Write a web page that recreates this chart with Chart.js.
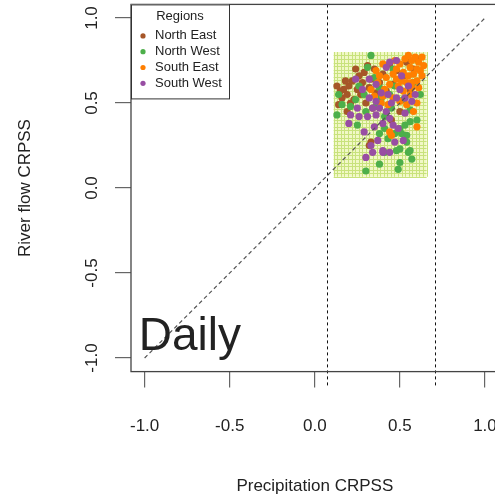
<!DOCTYPE html>
<html>
<head>
<meta charset="utf-8">
<script src="https://cdn.jsdelivr.net/npm/chart.js@4.4.0/dist/chart.umd.min.js"></script>
<style>
html, body { margin: 0; padding: 0; background: #fff; overflow: hidden; }
canvas { display: block; }
</style>
</head>
<body>
<canvas id="crpss" width="520" height="499"></canvas>
<script>
// CRPSS of river flow against CRPSS of precipitation, per catchment
const regions = ['North East', 'North West', 'South East', 'South West'];
const regionColours = ['#A65628', '#4DAF4A', '#FF7F00', '#984EA3'];
const tickValues = [-1, -0.5, 0, 0.5, 1];
const precipThresholds = [0.07, 0.705];
const skillBoxX = [0.111, 0.657];
const skillBoxY = [0.066, 0.8];

const northEast = [
  [0.14,0.49],[0.16,0.53],[0.17,0.58],[0.19,0.55],[0.20,0.60],[0.22,0.63],[0.23,0.52],[0.24,0.70],
  [0.25,0.58],[0.26,0.66],[0.27,0.55],[0.28,0.62],[0.29,0.68],[0.30,0.50],[0.31,0.72],[0.32,0.59],
  [0.33,0.64],[0.34,0.47],[0.35,0.70],[0.36,0.56],[0.38,0.62],[0.40,0.67],[0.42,0.57],[0.44,0.73],
  [0.46,0.61],[0.48,0.69],[0.50,0.45],[0.52,0.66],[0.54,0.74],[0.56,0.58],[0.58,0.70],[0.60,0.76],
  [0.19,0.45],[0.21,0.50],[0.15,0.57],[0.33,0.27],[0.32,0.25],[0.45,0.40],[0.13,0.60],[0.18,0.63]
];
const northWest = [
  [0.33,0.78],[0.13,0.43],[0.21,0.48],[0.29,0.55],[0.38,0.59],[0.39,0.53],[0.25,0.37],[0.38,0.32],
  [0.53,0.37],[0.50,0.35],[0.47,0.32],[0.51,0.32],[0.54,0.31],[0.54,0.27],[0.56,0.39],[0.41,0.21],
  [0.50,0.23],[0.55,0.21],[0.56,0.22],[0.30,0.10],[0.49,0.11],[0.38,0.14],[0.48,0.22],[0.56,0.46],
  [0.30,0.45],[0.45,0.47],[0.58,0.62],[0.44,0.55],[0.35,0.65],[0.16,0.49],[0.26,0.60],[0.41,0.42],
  [0.47,0.60],[0.52,0.52],[0.60,0.40],[0.57,0.17],[0.43,0.29],[0.36,0.48],[0.31,0.71],[0.24,0.52],
  [0.46,0.70],[0.50,0.15],[0.41,0.35],[0.14,0.55],[0.62,0.55]
];
const southEast = [
  [0.53,0.76],[0.55,0.78],[0.57,0.75],[0.59,0.77],[0.61,0.74],[0.63,0.77],[0.50,0.73],[0.56,0.71],
  [0.60,0.70],[0.36,0.69],[0.40,0.73],[0.38,0.66],[0.42,0.65],[0.46,0.67],[0.48,0.64],[0.52,0.68],
  [0.55,0.66],[0.58,0.67],[0.62,0.69],[0.44,0.61],[0.49,0.60],[0.54,0.62],[0.57,0.59],[0.60,0.63],
  [0.41,0.58],[0.52,0.57],[0.56,0.55],[0.60,0.50],[0.63,0.66],[0.46,0.53],[0.50,0.51],[0.40,0.54],
  [0.43,0.49],[0.58,0.45],[0.60,0.36],[0.45,0.31],[0.44,0.33],[0.37,0.62],[0.33,0.58],[0.64,0.72],
  [0.47,0.75],[0.51,0.63],[0.39,0.50],[0.54,0.49],[0.61,0.59],[0.35,0.54],[0.57,0.62],[0.48,0.70]
];
const southWest = [
  [0.48,0.75],[0.44,0.74],[0.42,0.71],[0.32,0.64],[0.36,0.61],[0.32,0.53],[0.36,0.51],[0.34,0.47],
  [0.45,0.50],[0.48,0.53],[0.53,0.53],[0.21,0.43],[0.26,0.42],[0.31,0.42],[0.36,0.43],[0.40,0.38],
  [0.44,0.41],[0.46,0.37],[0.49,0.35],[0.52,0.28],[0.33,0.25],[0.34,0.21],[0.40,0.21],[0.44,0.21],
  [0.37,0.28],[0.30,0.18],[0.40,0.22],[0.51,0.66],[0.55,0.60],[0.28,0.58],[0.39,0.56],[0.43,0.55],
  [0.59,0.55],[0.25,0.47],[0.29,0.33],[0.53,0.44],[0.47,0.27],[0.38,0.47],[0.50,0.58],[0.24,0.64],
  [0.57,0.51],[0.20,0.38],[0.42,0.45],[0.35,0.36]
];
const regionPoints = [northEast, northWest, southEast, southWest];

Chart.defaults.font.family = '"Liberation Sans", Arial, sans-serif';
Chart.defaults.color = '#222';

const toXY = pts => pts.map(p => ({ x: p[0], y: p[1] }));

const overlay = {
  id: 'overlay',
  beforeDatasetsDraw(chart) {
    // hatched skill window behind the points
    const { ctx, scales: { x, y } } = chart;
    const l = x.getPixelForValue(skillBoxX[0]), r = x.getPixelForValue(skillBoxX[1]);
    const t = y.getPixelForValue(skillBoxY[1]), b = y.getPixelForValue(skillBoxY[0]);
    ctx.save();
    ctx.fillStyle = '#f1f8c6';
    ctx.fillRect(l, t, r - l, b - t);
    ctx.strokeStyle = '#c8e27c';
    ctx.lineWidth = 1;
    ctx.beginPath();
    for (let v = skillBoxX[0]; v <= skillBoxX[1] + 1e-9; v += 0.021) {
      const px = Math.round(x.getPixelForValue(v)) + 0.5;
      ctx.moveTo(px, t); ctx.lineTo(px, b);
    }
    for (let v = skillBoxY[0]; v <= skillBoxY[1] + 1e-9; v += 0.021) {
      const py = Math.round(y.getPixelForValue(v)) + 0.5;
      ctx.moveTo(l, py); ctx.lineTo(r, py);
    }
    ctx.stroke();
    ctx.restore();
  },
  afterDatasetsDraw(chart) {
    const { ctx, chartArea, scales: { x, y } } = chart;
    ctx.save();
    // 1:1 line
    ctx.strokeStyle = '#555';
    ctx.lineWidth = 1.2;
    ctx.setLineDash([4, 3]);
    ctx.beginPath();
    ctx.moveTo(x.getPixelForValue(-1), y.getPixelForValue(-1));
    ctx.lineTo(x.getPixelForValue(1), y.getPixelForValue(1));
    ctx.stroke();
    // precipitation skill thresholds
    ctx.strokeStyle = '#111';
    ctx.lineWidth = 1;
    ctx.setLineDash([3, 3]);
    precipThresholds.forEach(v => {
      const px = Math.round(x.getPixelForValue(v)) + 0.5;
      ctx.beginPath();
      ctx.moveTo(px, chartArea.top);
      ctx.lineTo(px, chartArea.bottom + 14);
      ctx.stroke();
    });
    ctx.restore();
  },
  afterDraw(chart) {
    const { ctx, chartArea, scales: { x, y } } = chart;
    ctx.save();
    // plot frame
    ctx.strokeStyle = '#444';
    ctx.lineWidth = 1.3;
    ctx.strokeRect(chartArea.left, chartArea.top, chartArea.right - chartArea.left, chartArea.bottom - chartArea.top);

    // legend box
    const lx = chartArea.left, ly = chartArea.top;
    ctx.fillStyle = '#fff';
    ctx.fillRect(lx, ly, 98, 94);
    ctx.strokeStyle = '#333';
    ctx.lineWidth = 1;
    ctx.strokeRect(lx + 0.5, ly + 0.5, 98, 94);
    ctx.fillStyle = '#222';
    ctx.font = '13px "Liberation Sans", Arial, sans-serif';
    ctx.textBaseline = 'middle';
    ctx.textAlign = 'center';
    ctx.fillText('Regions', lx + 49, ly + 12.5);
    ctx.textAlign = 'left';
    chart.data.datasets.forEach((ds, i) => {
      const cy = ly + 31.5 + i * 15.8;
      ctx.fillStyle = ds.backgroundColor;
      ctx.beginPath();
      ctx.arc(lx + 12, cy, 2.6, 0, Math.PI * 2);
      ctx.fill();
      ctx.fillStyle = '#222';
      ctx.fillText(ds.label, lx + 24, cy);
    });

    // panel label
    ctx.font = '46px "Liberation Sans", Arial, sans-serif';
    ctx.textBaseline = 'alphabetic';
    ctx.fillStyle = '#222';
    ctx.fillText('Daily', x.getPixelForValue(-1.035), y.getPixelForValue(-0.953));
    ctx.restore();
  }
};

new Chart(document.getElementById('crpss'), {
  type: 'scatter',
  data: {
    datasets: regions.map((name, i) => ({
      label: name,
      data: toXY(regionPoints[i]),
      backgroundColor: regionColours[i],
      borderWidth: 0,
      pointRadius: 3.6,
      order: 4 - i
    }))
  },
  options: {
    responsive: false,
    animation: false,
    events: [],
    layout: { padding: { left: 0, top: 4.4, right: 21.4, bottom: 0 } },
    plugins: { legend: { display: false }, tooltip: { enabled: false } },
    scales: {
      x: {
        type: 'linear',
        min: -1.08,
        max: 1.08,
        afterBuildTicks: s => { s.ticks = tickValues.map(v => ({ value: v })); },
        afterFit: s => { s.height = 127.4; s.paddingLeft = 0; s.paddingRight = 0; },
        border: { display: false },
        grid: { drawOnChartArea: false, drawTicks: true, tickLength: 16, color: '#666', lineWidth: 1.2 },
        ticks: { padding: 29, font: { size: 17 }, color: '#222', callback: v => v.toFixed(1) },
        title: { display: true, text: 'Precipitation CRPSS', font: { size: 17 }, color: '#222', padding: { bottom: 2 } }
      },
      y: {
        type: 'linear',
        min: -1.08,
        max: 1.08,
        afterBuildTicks: s => { s.ticks = tickValues.map(v => ({ value: v })); },
        afterFit: s => { s.width = 131; s.paddingTop = 0; s.paddingBottom = 0; },
        border: { display: false },
        grid: { drawOnChartArea: false, drawTicks: true, tickLength: 16, color: '#666', lineWidth: 1.2 },
        ticks: { padding: 8, minRotation: 90, maxRotation: 90, crossAlign: 'center', font: { size: 17 }, color: '#222', callback: v => v.toFixed(1) },
        title: { display: true, text: 'River flow CRPSS', font: { size: 17 }, color: '#222', padding: { top: 15 } }
      }
    }
  },
  plugins: [overlay]
});
</script>
</body>
</html>
